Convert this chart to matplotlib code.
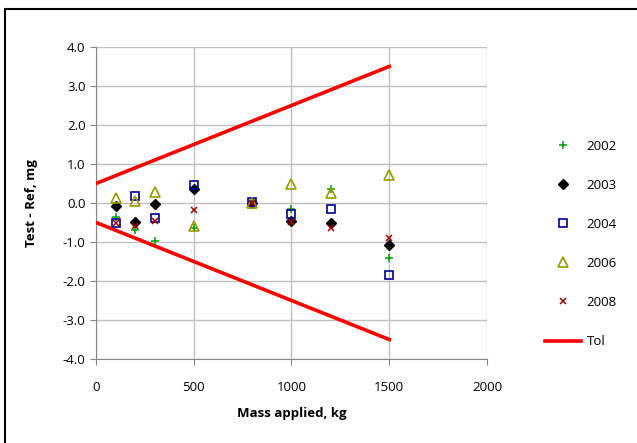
import numpy as np
import matplotlib.pyplot as plt
from matplotlib.patches import Rectangle

plt.rcParams['font.family'] = ['Open Sans', 'DejaVu Sans']

# masses applied, kg
mass = [100, 200, 300, 500, 800, 1000, 1200, 1500]

# test - ref differences, mg
d2002 = [-0.35, -0.70, -0.98, -0.65, 0.00, -0.15, 0.35, -1.40]
d2003 = [-0.08, -0.50, -0.03, 0.35, 0.00, -0.45, -0.52, -1.08]
d2004 = [-0.52, 0.17, -0.38, 0.45, 0.03, -0.28, -0.15, -1.85]
d2006 = [0.12, 0.05, 0.27, -0.60, 0.00, 0.48, 0.25, 0.72]
d2008 = [-0.52, -0.60, -0.45, -0.18, 0.00, -0.50, -0.63, -0.90]

# tolerance lines
tol_x = [0, 1500]
tol_hi = [0.5, 3.5]
tol_lo = [-0.5, -3.5]

fig = plt.figure(figsize=(6.37, 4.43), dpi=100)
ax = fig.add_axes([0.1507, 0.1896, 0.6138, 0.7044])

ax.plot(mass, d2002, '+', color='#00a000', ms=6, mew=1.1, label='2002', zorder=5)
ax.plot(mass, d2003, 'D', color='black', ms=5.5, label='2003', zorder=5)
ax.plot(mass, d2004, 's', mfc='none', mec='#000090', ms=6, mew=1.2, label='2004', zorder=5)
ax.plot(mass, d2006, '^', mfc='none', mec='#9a9a00', ms=7, mew=1.2, label='2006', zorder=5)
ax.plot(mass, d2008, 'x', color='#a00000', ms=4.8, mew=1.1, label='2008', zorder=5)
ax.plot(tol_x, tol_hi, color='#ff0000', lw=2.6, label='Tol', zorder=4)
ax.plot(tol_x, tol_lo, color='#ff0000', lw=2.6, zorder=4)

ax.set_xlim(0, 2000)
ax.set_ylim(-4, 4)
ax.set_xticks(np.arange(0, 2001, 500))
ax.set_yticks(np.arange(-4, 4.01, 1))
ax.set_yticklabels(['%.1f' % v for v in np.arange(-4, 4.01, 1)])
ax.grid(True, color='#c0c0c0', lw=1)
ax.set_axisbelow(True)
for s in ['top', 'right']:
    ax.spines[s].set_visible(False)
for s in ['left', 'bottom']:
    ax.spines[s].set_color('#868686')
ax.tick_params(axis='both', direction='out', length=4, color='#868686',
               labelsize=9.5, labelcolor='black')
ax.tick_params(axis='x', pad=12)

ax.set_xlabel('Mass applied, kg', fontsize=9.5, fontweight='bold', labelpad=9)
ax.set_ylabel('Test - Ref, mg', fontsize=9.5, fontweight='bold', labelpad=18)

ax.legend(loc='upper left', bbox_to_anchor=(0.848, 0.697), bbox_transform=fig.transFigure,
          frameon=False, fontsize=9.5, handlelength=2.7, handletextpad=0.4,
          labelspacing=1.98, borderaxespad=0)

# outer chart border
fig.patches.append(Rectangle((5 / 637, -0.05), 1.1, 1 - 9 / 443 + 0.05, transform=fig.transFigure,
                             fill=False, ec='black', lw=1.5))

fig.savefig('out.png', dpi=100)
